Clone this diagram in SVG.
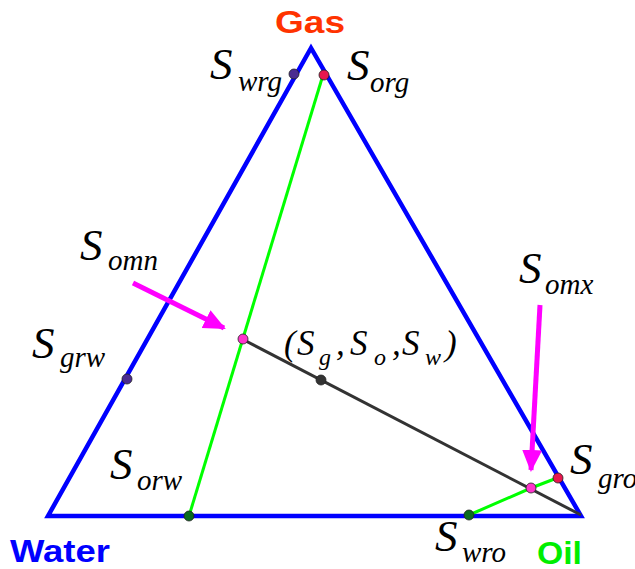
<svg xmlns="http://www.w3.org/2000/svg" width="635" height="569" viewBox="0 0 635 569">
<style>
.lbl{font-family:"Liberation Serif",serif;font-style:italic;fill:#000}
.S{font-size:45px}
.sub{font-size:29px}
.dot{stroke:#222;stroke-width:0.8}
.bold{font-family:"Liberation Sans",Arial,sans-serif;font-weight:bold;font-size:31px}
</style>
<defs>
<marker id="mh" markerUnits="userSpaceOnUse" markerWidth="24" markerHeight="24" refX="20" refY="10" orient="auto" viewBox="0 0 24 20">
<path d="M0,0 L22,10 L0,20 Z" fill="#ff00ff"/>
</marker>
</defs>
<rect width="635" height="569" fill="#fff"/>
<g id="connectors">
<polygon points="311,48 48,516 581,516" fill="none" stroke="#0000ff" stroke-width="4.5" stroke-linejoin="miter"/>
<line x1="323" y1="75" x2="189" y2="516" stroke="#00ff00" stroke-width="3"/>
<polyline points="469,515 531,488 557,478" fill="none" stroke="#00ff00" stroke-width="3"/>
<line x1="242" y1="339" x2="581" y2="515" stroke="#333" stroke-width="3"/>
<line x1="133" y1="283" x2="224" y2="328" stroke="#ff00ff" stroke-width="5" marker-end="url(#mh)"/>
<line x1="540" y1="305" x2="531" y2="470" stroke="#ff00ff" stroke-width="5" marker-end="url(#mh)"/>
</g>
<g id="Gas"><text class="bold" x="275" y="33" textLength="70" lengthAdjust="spacingAndGlyphs" fill="#ff3300">Gas</text></g>
<g id="Water"><text class="bold" x="10" y="562" textLength="100" lengthAdjust="spacingAndGlyphs" fill="#0000ff">Water</text></g>
<g id="Oil"><text class="bold" x="537" y="564" textLength="45" lengthAdjust="spacingAndGlyphs" fill="#00ee00">Oil</text></g>
<g id="Swrg"><circle class="dot" cx="294" cy="74" r="5" fill="#4b2c91"/><text class="lbl S" x="210" y="79">S</text><text class="lbl sub" x="238" y="91">wrg</text></g>
<g id="Sorg"><circle class="dot" cx="324" cy="75" r="5" fill="#e8174f"/><text class="lbl S" x="347" y="80">S</text><text class="lbl sub" x="370" y="92">org</text></g>
<g id="Sgrw"><circle class="dot" cx="127" cy="379" r="5" fill="#4b2c91"/><text class="lbl S" x="32" y="358">S</text><text class="lbl sub" x="60" y="367">grw</text></g>
<g id="Somn"><circle class="dot" cx="243" cy="339" r="5" fill="#ff33cc"/><text class="lbl S" x="80" y="260">S</text><text class="lbl sub" x="108" y="270">omn</text></g>
<g id="Point"><circle class="dot" cx="321" cy="380" r="5" fill="#333"/>
<text class="lbl" font-size="35" y="355"><tspan x="284">(</tspan><tspan x="297">S</tspan><tspan x="336">,</tspan><tspan x="350">S</tspan><tspan x="392">,</tspan><tspan x="402">S</tspan><tspan x="445">)</tspan></text>
<text class="lbl" font-size="24" y="365"><tspan x="319">g</tspan><tspan x="374">o</tspan><tspan x="425">w</tspan></text></g>
<g id="Somx"><circle class="dot" cx="531" cy="488" r="5" fill="#ff33cc"/><text class="lbl S" x="519" y="283">S</text><text class="lbl sub" x="545" y="294">omx</text></g>
<g id="Sgro"><circle class="dot" cx="558" cy="478" r="5" fill="#e8174f"/><text class="lbl S" x="570" y="474">S</text><text class="lbl sub" x="598" y="488">gro</text></g>
<g id="Sorw"><circle class="dot" cx="189" cy="516" r="5" fill="#0b6b1f"/><text class="lbl S" x="110" y="479">S</text><text class="lbl sub" x="137" y="490">orw</text></g>
<g id="Swro"><circle class="dot" cx="469" cy="515" r="5" fill="#0b6b1f"/><text class="lbl S" x="435" y="551">S</text><text class="lbl sub" x="462" y="562">wro</text></g>
</svg>
